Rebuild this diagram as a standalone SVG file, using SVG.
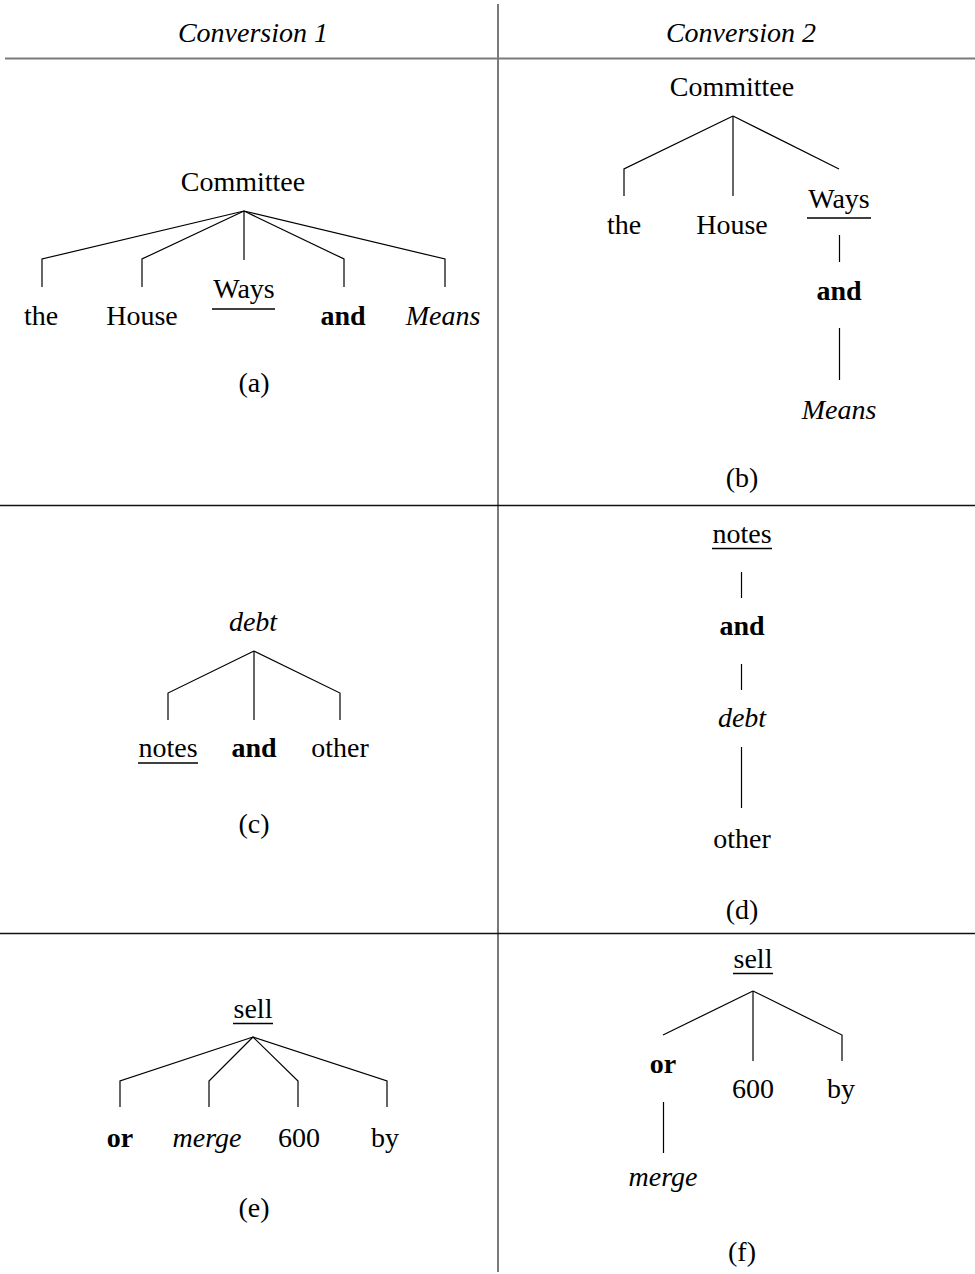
<svg xmlns="http://www.w3.org/2000/svg" width="975" height="1274" viewBox="0 0 975 1274">
<style>
text{font-family:"Liberation Serif","Times New Roman",serif;font-size:28px;fill:#000;text-anchor:middle}
.i{font-style:italic}
.b{font-weight:bold}
.e{fill:none;stroke:#000;stroke-width:1.2}
.u{stroke:#000;stroke-width:1.3}
.grid{stroke:#7a7a7a;stroke-width:2;fill:none}
.rule{stroke:#111;stroke-width:1.3;fill:none}
</style>
<rect width="975" height="1274" fill="#fff"/>
<g id="table">
<line class="grid" x1="498" y1="4" x2="498" y2="1272"/>
<line class="grid" x1="5" y1="58.5" x2="975" y2="58.5"/>
<line class="rule" x1="0" y1="505.5" x2="975" y2="505.5"/>
<line class="rule" x1="0" y1="933.5" x2="975" y2="933.5"/>
<text class="i" x="253" y="42">Conversion 1</text>
<text class="i" x="741" y="42">Conversion 2</text>
</g>
<g id="connectors">
<!-- (a) -->
<polyline class="e" points="244,211 42,259 42,287"/>
<polyline class="e" points="244,211 142,259 142,287"/>
<line class="e" x1="244" y1="211" x2="244" y2="260"/>
<polyline class="e" points="244,211 344,259 344,287"/>
<polyline class="e" points="244,211 445,259 445,287"/>
<!-- (b) -->
<polyline class="e" points="733,116 624,169 624,196"/>
<line class="e" x1="733" y1="116" x2="733" y2="196"/>
<line class="e" x1="733" y1="116" x2="839" y2="169"/>
<line class="e" x1="839.5" y1="235" x2="839.5" y2="262"/>
<line class="e" x1="839.5" y1="328" x2="839.5" y2="380"/>
<!-- (c) -->
<polyline class="e" points="254,651 168,693 168,720"/>
<line class="e" x1="254" y1="651" x2="254" y2="720"/>
<polyline class="e" points="254,651 340,693 340,720"/>
<!-- (d) -->
<line class="e" x1="741.5" y1="572" x2="741.5" y2="598"/>
<line class="e" x1="741.5" y1="664" x2="741.5" y2="690"/>
<line class="e" x1="741.5" y1="747" x2="741.5" y2="808"/>
<!-- (e) -->
<polyline class="e" points="253,1037 120,1081 120,1107"/>
<polyline class="e" points="253,1037 209,1081 209,1107"/>
<polyline class="e" points="253,1037 298,1081 298,1107"/>
<polyline class="e" points="253,1037 387,1081 387,1107"/>
<!-- (f) -->
<line class="e" x1="753" y1="991" x2="663" y2="1035"/>
<line class="e" x1="753" y1="991" x2="753" y2="1061"/>
<polyline class="e" points="753,991 842,1035 842,1061"/>
<line class="e" x1="663.5" y1="1102" x2="663.5" y2="1153"/>
</g>
<g id="tree-a">
<text x="243" y="191">Committee</text>
<text x="41" y="325">the</text>
<text x="142" y="325">House</text>
<text x="244" y="298">Ways</text>
<line class="u" x1="212" y1="309" x2="275" y2="309"/>
<text class="b" x="343" y="325">and</text>
<text class="i" x="443" y="325">Means</text>
<text x="254" y="392">(a)</text>
</g>
<g id="tree-b">
<text x="732" y="96">Committee</text>
<text x="624" y="234">the</text>
<text x="732" y="234">House</text>
<text x="839" y="208">Ways</text>
<line class="u" x1="807" y1="218" x2="871" y2="218"/>
<text class="b" x="839" y="300">and</text>
<text class="i" x="839" y="419">Means</text>
<text x="742" y="487">(b)</text>
</g>
<g id="tree-c">
<text class="i" x="253" y="631">debt</text>
<text x="168" y="757">notes</text>
<line class="u" x1="138" y1="763" x2="198" y2="763"/>
<text class="b" x="254" y="757">and</text>
<text x="340" y="757">other</text>
<text x="254" y="833">(c)</text>
</g>
<g id="tree-d">
<text x="742" y="543">notes</text>
<line class="u" x1="712" y1="548.5" x2="772" y2="548.5"/>
<text class="b" x="742" y="635">and</text>
<text class="i" x="742" y="727">debt</text>
<text x="742" y="848">other</text>
<text x="742" y="919">(d)</text>
</g>
<g id="tree-e">
<text x="253" y="1018">sell</text>
<line class="u" x1="233" y1="1023.5" x2="273" y2="1023.5"/>
<text class="b" x="120" y="1147">or</text>
<text class="i" x="207" y="1147">merge</text>
<text x="299" y="1147">600</text>
<text x="385" y="1147">by</text>
<text x="254" y="1217">(e)</text>
</g>
<g id="tree-f">
<text x="753" y="968">sell</text>
<line class="u" x1="733" y1="973.5" x2="773" y2="973.5"/>
<text class="b" x="663" y="1073">or</text>
<text x="753" y="1098">600</text>
<text x="841" y="1098">by</text>
<text class="i" x="663" y="1186">merge</text>
<text x="742" y="1261">(f)</text>
</g>
</svg>
